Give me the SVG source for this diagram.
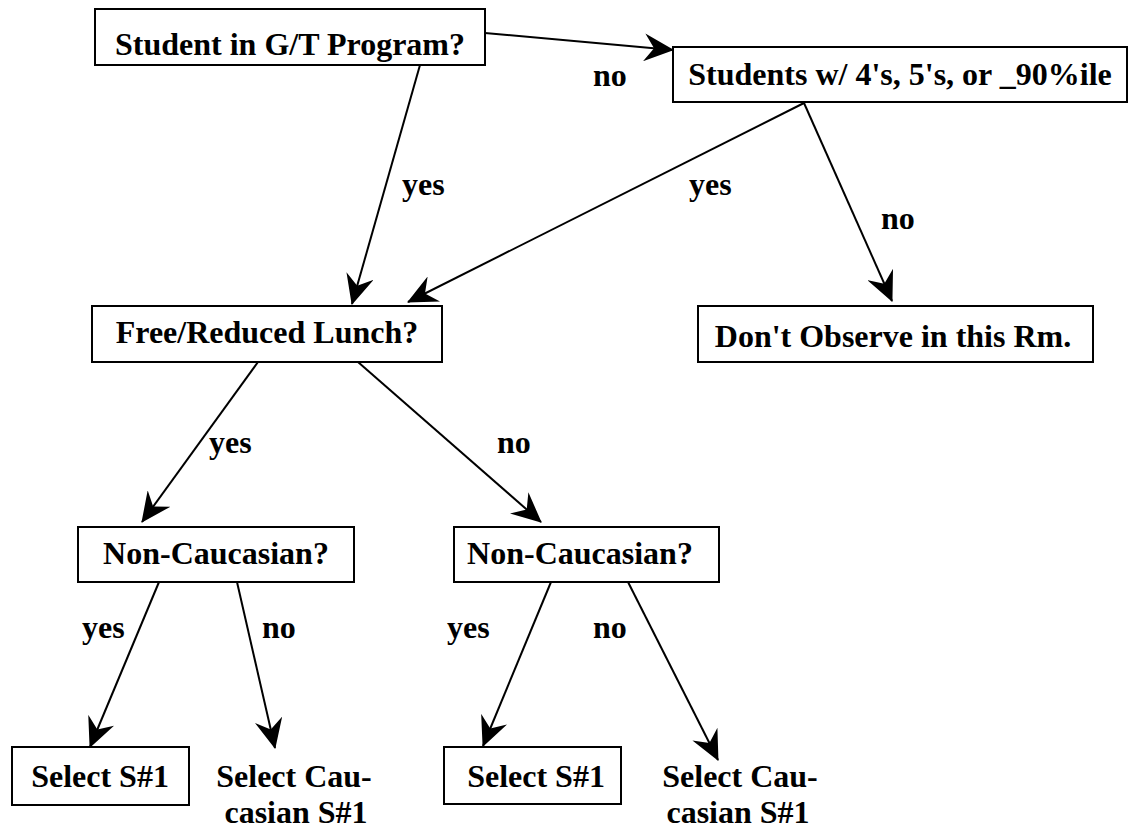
<svg xmlns="http://www.w3.org/2000/svg" width="1131" height="829" viewBox="0 0 1131 829">
<style>
.box{fill:#fff;stroke:#000;stroke-width:2}
.t{font-family:"Liberation Serif","Times New Roman",serif;font-weight:bold;font-size:32px;fill:#000}
.m{text-anchor:middle}
.c{fill:none;stroke:#000;stroke-width:2;marker-end:url(#ah)}
</style>
<defs>
<marker id="ah" markerUnits="userSpaceOnUse" viewBox="0 0 30 28" refX="29" refY="14" markerWidth="30" markerHeight="28" orient="auto">
<path d="M30,14 L0,0 L10,14 L0,28 Z" fill="#000"/>
</marker>
</defs>
<rect width="1131" height="829" fill="#fff"/>
<g id="connectors">
<line class="c" x1="485" y1="33" x2="673" y2="50"/>
<line class="c" x1="420" y1="65" x2="352" y2="304"/>
<line class="c" x1="804" y1="103" x2="408" y2="302"/>
<line class="c" x1="804" y1="103" x2="892" y2="301"/>
<line class="c" x1="258" y1="362" x2="142" y2="522"/>
<line class="c" x1="358" y1="362" x2="541" y2="522"/>
<line class="c" x1="159" y1="582" x2="90" y2="747"/>
<line class="c" x1="237" y1="582" x2="275" y2="748"/>
<line class="c" x1="551" y1="582" x2="483" y2="746"/>
<line class="c" x1="628" y1="582" x2="718" y2="760"/>
<text class="t" x="593" y="86">no</text>
<text class="t" x="402" y="195">yes</text>
<text class="t" x="689" y="195">yes</text>
<text class="t" x="881" y="229">no</text>
<text class="t" x="209" y="453">yes</text>
<text class="t" x="497" y="453">no</text>
<text class="t" x="82" y="638">yes</text>
<text class="t" x="262" y="638">no</text>
<text class="t" x="447" y="638">yes</text>
<text class="t" x="593" y="638">no</text>
</g>
<g id="n-gt">
<rect class="box" x="95" y="9" width="390" height="56"/>
<text class="t m" x="290" y="55">Student in G/T Program?</text>
</g>
<g id="n-scores">
<rect class="box" x="673" y="47" width="454" height="55"/>
<text class="t m" x="900" y="85">Students w/ 4's, 5's, or _90%ile</text>
</g>
<g id="n-lunch">
<rect class="box" x="92" y="306" width="350" height="56"/>
<text class="t m" x="267" y="343">Free/Reduced Lunch?</text>
</g>
<g id="n-dont">
<rect class="box" x="698" y="306" width="395" height="56"/>
<text class="t m" x="893" y="347">Don't Observe in this Rm.</text>
</g>
<g id="n-nc1">
<rect class="box" x="78" y="527" width="276" height="55"/>
<text class="t m" x="216" y="564">Non-Caucasian?</text>
</g>
<g id="n-nc2">
<rect class="box" x="454" y="527" width="265" height="55"/>
<text class="t m" x="580" y="564">Non-Caucasian?</text>
</g>
<g id="n-sel1">
<rect class="box" x="12" y="747" width="177" height="58"/>
<text class="t m" x="100" y="787">Select S#1</text>
</g>
<g id="n-cau1">
<text class="t m" x="294" y="787">Select Cau-</text>
<text class="t m" x="296" y="823">casian S#1</text>
</g>
<g id="n-sel2">
<rect class="box" x="444" y="747" width="177" height="57"/>
<text class="t m" x="536" y="787">Select S#1</text>
</g>
<g id="n-cau2">
<text class="t m" x="740" y="787">Select Cau-</text>
<text class="t m" x="738" y="823">casian S#1</text>
</g>
</svg>
